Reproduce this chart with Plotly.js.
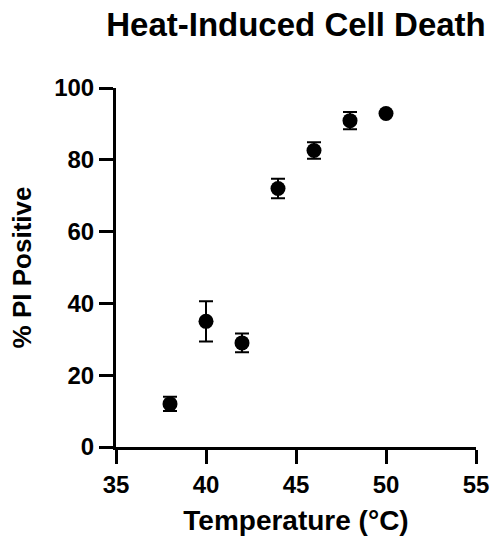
<!DOCTYPE html>
<html>
<head>
<meta charset="utf-8">
<script src="https://cdn.plot.ly/plotly-3.0.1.min.js"></script>
<style>html,body{margin:0;padding:0;background:#fff;}#chart{width:493px;height:541px;}</style>
</head>
<body>
<div id="chart"></div>
<script>
const temperature = [38, 40, 42, 44, 46, 48, 50];
const piPositive = [12.0, 35.0, 29.0, 72.0, 82.6, 90.9, 92.9];
const errorSD = [2.0, 5.6, 2.6, 2.7, 2.3, 2.4, 0.0];
const xTicks = [35, 40, 45, 50, 55];
const yTicks = [0, 20, 40, 60, 80, 100];

const FONT = '"Liberation Sans", Arial, Helvetica, sans-serif';

const trace = {
  type: 'scatter',
  mode: 'markers',
  x: temperature,
  y: piPositive,
  marker: {color: '#000', size: 15},
  error_y: {type: 'data', array: errorSD, visible: true, color: '#000', thickness: 2, width: 7},
  showlegend: false,
  cliponaxis: false
};

const axisCommon = {
  showgrid: false,
  zeroline: false,
  showline: true,
  linecolor: '#000',
  linewidth: 3,
  ticks: 'outside',
  ticklen: 14,
  tickwidth: 3,
  tickcolor: '#000',
  tickfont: {family: FONT, size: 24, color: '#000', weight: 'bold'},
  fixedrange: true
};

const layout = {
  width: 493,
  height: 541,
  margin: {l: 116, r: 17, t: 88, b: 94},
  paper_bgcolor: '#fff',
  plot_bgcolor: '#fff',
  font: {family: FONT, color: '#000'},
  title: {
    text: '<b>Heat-Induced Cell Death</b>',
    font: {family: FONT, size: 33, color: '#000'},
    x: 0.5, xref: 'paper', xanchor: 'center',
    y: 0.955, yref: 'container', yanchor: 'middle'
  },
  xaxis: Object.assign({}, axisCommon, {
    range: [35, 55],
    tickvals: xTicks,
    ticktext: xTicks.map(String),
    title: {text: '<b>Temperature (°C)</b>', font: {family: FONT, size: 28, color: '#000'}, standoff: 14}
  }),
  yaxis: Object.assign({}, axisCommon, {
    range: [0, 100],
    tickvals: yTicks,
    ticktext: yTicks.map(String),
    title: {text: '<b>% PI Positive</b>', font: {family: FONT, size: 26, color: '#000'}, standoff: 16}
  })
};

Plotly.newPlot('chart', [trace], layout, {staticPlot: true, displayModeBar: false});
</script>
</body>
</html>
